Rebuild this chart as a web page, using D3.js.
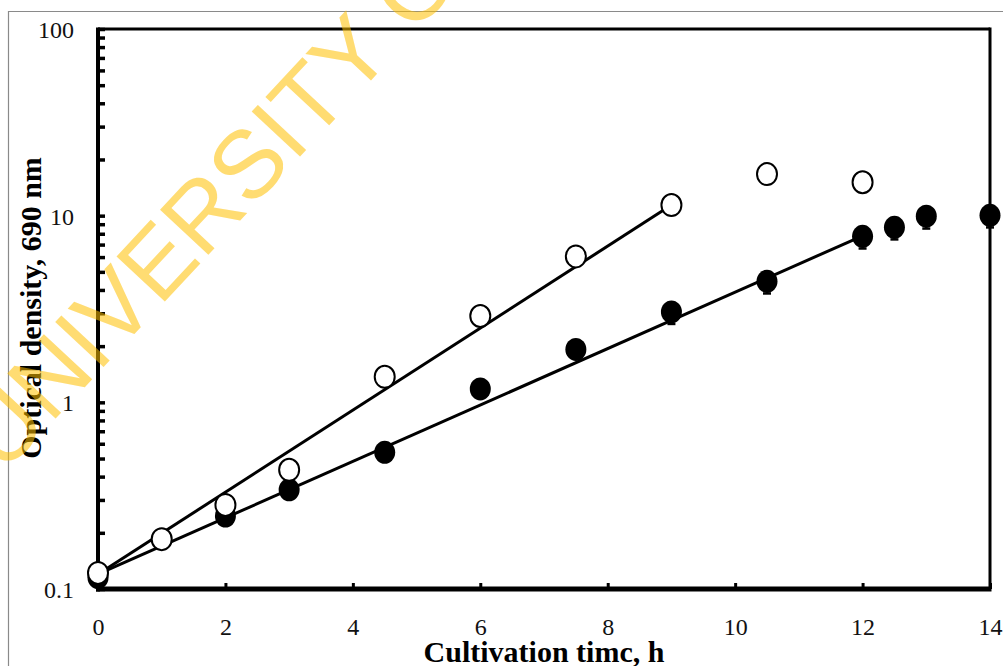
<!DOCTYPE html>
<html>
<head>
<meta charset="utf-8">
<script src="https://cdn.jsdelivr.net/npm/d3@7"></script>
<style>
  body { margin: 0; background: #fff; }
</style>
</head>
<body>
<div id="chart"></div>
<script>
// data (time in h, optical density at 690 nm)
var timeOpen = [0, 1, 2, 3, 4.5, 6, 7.5, 9, 10.5, 12];
var odOpen = [0.122, 0.185, 0.282, 0.435, 1.37, 2.9, 6.05, 11.4, 16.7, 15.1];

var timeFilled = [0, 2, 3, 4.5, 6, 7.5, 9, 10.5, 12, 12.5, 13, 14];
var odFilled = [0.115, 0.246, 0.34, 0.54, 1.18, 1.92, 3.05, 4.45, 7.75, 8.66, 9.93, 10.05];
var errFilled = [0.004, 0.01, 0.015, 0.025, 0.05, 0.08, 0.42, 0.62, 1.08, 1.2, 1.4, 1.4];

// exponential fit lines (end points)
var fitOpenTime = [0, 9];
var fitOpenOD = [0.12, 11.4];
var fitFilledTime = [0, 12];
var fitFilledOD = [0.12, 7.8];

var xTicks = [0, 2, 4, 6, 8, 10, 12, 14];
var yMajor = [0.1, 1, 10, 100];

var width = 1003,
  height = 666;
var plot = { left: 98, right: 990, top: 29, bottom: 589 };
var serif = "'Liberation Serif', 'Times New Roman', serif";

var svg = d3
  .select("#chart")
  .append("svg")
  .attr("width", width)
  .attr("height", height);

// grey page frame
svg.append("path")
  .attr("d", "M8.5,666 V11.5 H1003")
  .attr("fill", "none")
  .attr("stroke", "#8a8a8a")
  .attr("stroke-width", 1.2);

var xScale = d3.scaleLinear().domain([0, 14]).range([plot.left, plot.right]);
var yScale = d3.scaleLog().domain([0.1, 100]).range([plot.bottom, plot.top]);

// y axis, ticks pointing inward
var yAxis = d3
  .axisLeft(yScale)
  .tickValues(yScale.ticks())
  .tickSize(-7)
  .tickPadding(24)
  .tickFormat(function (d) {
    var m = yMajor.find(function (v) { return Math.abs(v - d) < 1e-9; });
    return m === undefined ? "" : String(m);
  });
var gY = svg.append("g")
  .attr("transform", "translate(" + plot.left + ",0)")
  .call(yAxis);
gY.select(".domain").remove();
gY.selectAll(".tick line").attr("stroke", "#000").attr("stroke-width", 3.5);
gY.selectAll(".tick text")
  .attr("font-family", serif)
  .attr("font-size", 24)
  .attr("fill", "#111")
  .attr("dy", "0.35em");

// x axis
var xAxis = d3
  .axisBottom(xScale)
  .tickValues(xTicks)
  .tickSize(-6)
  .tickFormat(d3.format("d"));
var gX = svg.append("g")
  .attr("transform", "translate(0," + plot.bottom + ")")
  .call(xAxis);
gX.select(".domain").remove();
gX.selectAll(".tick line").attr("stroke", "#000").attr("stroke-width", 3);
gX.selectAll(".tick text")
  .attr("font-family", serif)
  .attr("font-size", 24)
  .attr("fill", "#111")
  .attr("y", 46)
  .attr("dy", 0);

// plot frame
svg.append("line")
  .attr("x1", plot.left).attr("x2", plot.right)
  .attr("y1", plot.top).attr("y2", plot.top)
  .attr("stroke", "#000").attr("stroke-width", 3);
svg.append("line")
  .attr("x1", plot.right).attr("x2", plot.right)
  .attr("y1", plot.top - 1.5).attr("y2", plot.bottom)
  .attr("stroke", "#000").attr("stroke-width", 3);
svg.append("line")
  .attr("x1", plot.left).attr("x2", plot.left)
  .attr("y1", plot.top - 1.5).attr("y2", plot.bottom + 2.5)
  .attr("stroke", "#000").attr("stroke-width", 4);
svg.append("line")
  .attr("x1", plot.left - 2).attr("x2", plot.right + 1.5)
  .attr("y1", plot.bottom).attr("y2", plot.bottom)
  .attr("stroke", "#000").attr("stroke-width", 5);

// fit lines
var line = d3.line()
  .x(function (d) { return xScale(d[0]); })
  .y(function (d) { return yScale(d[1]); });
svg.append("path")
  .attr("d", line(d3.zip(fitOpenTime, fitOpenOD)))
  .attr("fill", "none").attr("stroke", "#000").attr("stroke-width", 3);
svg.append("path")
  .attr("d", line(d3.zip(fitFilledTime, fitFilledOD)))
  .attr("fill", "none").attr("stroke", "#000").attr("stroke-width", 3);

// error bars on filled series
var filled = timeFilled.map(function (t, i) {
  return { t: t, od: odFilled[i], err: errFilled[i] };
});
var errG = svg.append("g").selectAll("g").data(filled).enter().append("g");
errG.append("line")
  .attr("x1", function (d) { return xScale(d.t); })
  .attr("x2", function (d) { return xScale(d.t); })
  .attr("y1", function (d) { return yScale(d.od + d.err); })
  .attr("y2", function (d) { return yScale(d.od - d.err); })
  .attr("stroke", "#000").attr("stroke-width", 2.5);
errG.append("line")
  .attr("x1", function (d) { return xScale(d.t) - 4; })
  .attr("x2", function (d) { return xScale(d.t) + 4; })
  .attr("y1", function (d) { return yScale(d.od - d.err); })
  .attr("y2", function (d) { return yScale(d.od - d.err); })
  .attr("stroke", "#000").attr("stroke-width", 2.5);

// markers
svg.append("g").selectAll("ellipse").data(filled).enter().append("ellipse")
  .attr("cx", function (d) { return xScale(d.t); })
  .attr("cy", function (d) { return yScale(d.od); })
  .attr("rx", 10.5).attr("ry", 11.5)
  .attr("fill", "#000");

svg.append("g").selectAll("ellipse")
  .data(d3.zip(timeOpen, odOpen)).enter().append("ellipse")
  .attr("cx", function (d) { return xScale(d[0]); })
  .attr("cy", function (d) { return yScale(d[1]); })
  .attr("rx", 10).attr("ry", 11)
  .attr("fill", "#fff")
  .attr("stroke", "#000").attr("stroke-width", 2);

// axis titles
svg.append("text")
  .text("Cultivation timc, h")
  .attr("x", 544).attr("y", 662)
  .attr("text-anchor", "middle")
  .attr("font-family", serif).attr("font-weight", "bold")
  .attr("font-size", 30);
svg.append("text")
  .text("Optical density, 690 nm")
  .attr("transform", "translate(41,308) rotate(-90)")
  .attr("text-anchor", "middle")
  .attr("font-family", serif).attr("font-weight", "bold")
  .attr("font-size", 30);

// watermark on top
svg.append("text")
  .text("UNIVERSITY OF")
  .attr("transform", "translate(3,475) rotate(-47)")
  .attr("font-family", "'Liberation Sans', Arial, sans-serif")
  .attr("font-size", 96)
  .attr("fill", "#FFC000")
  .attr("opacity", 0.55);
</script>
</body>
</html>
